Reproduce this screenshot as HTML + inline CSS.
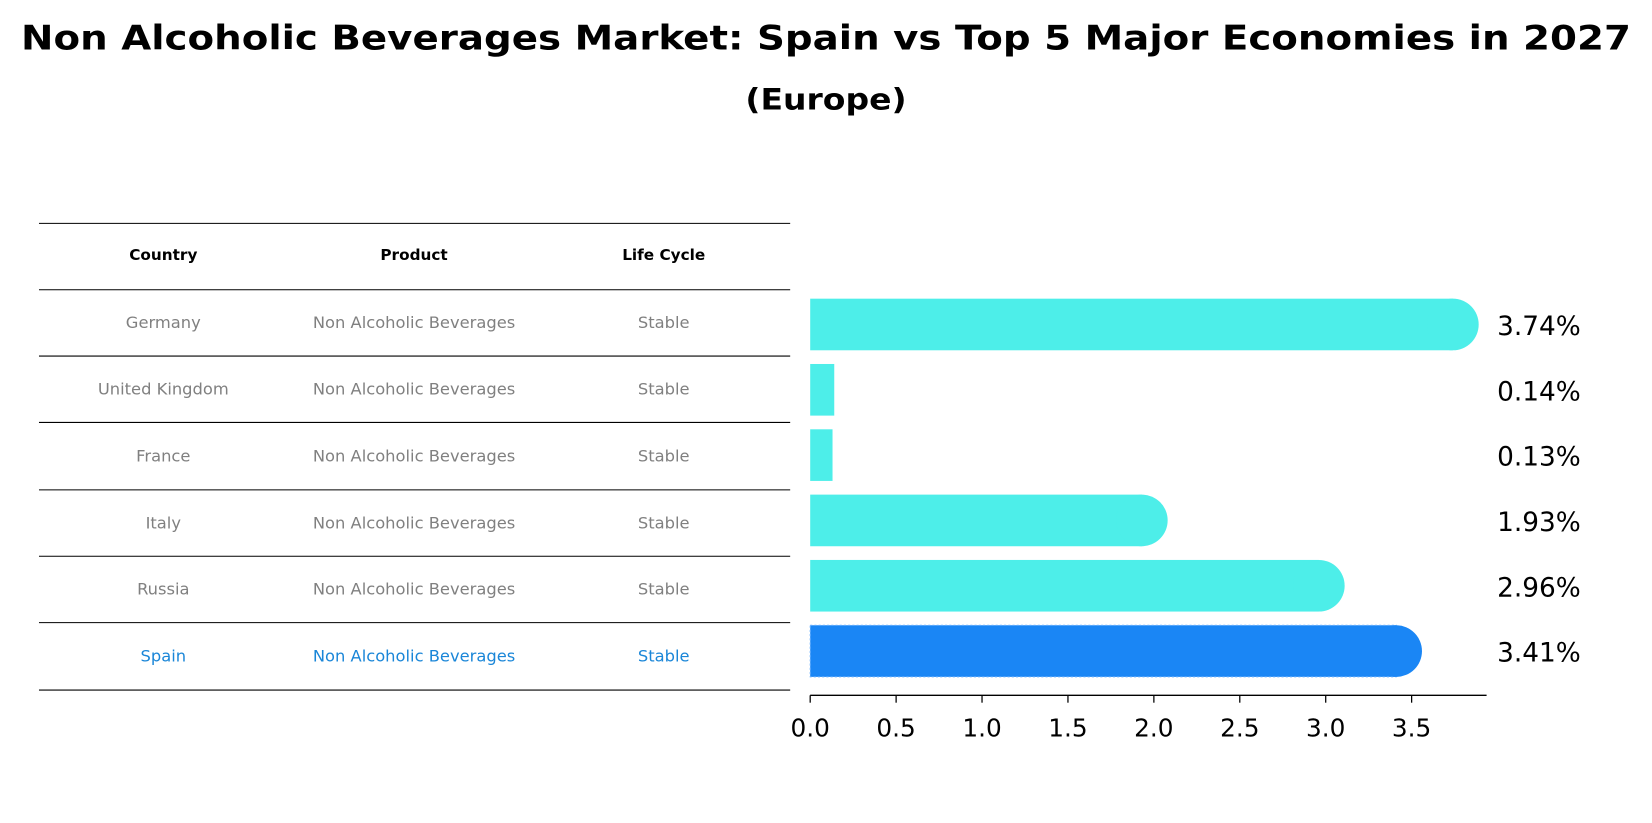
<!DOCTYPE html>
<html><head><meta charset="utf-8"><style>
body{margin:0;background:#fff;font-family:"Liberation Sans","DejaVu Sans",sans-serif;overflow:hidden}
svg{display:block}
</style></head><body>
<svg id="chart" width="1652" height="823" viewBox="0 0 1568 781.2" preserveAspectRatio="none" xmlns="http://www.w3.org/2000/svg" font-family="DejaVu Sans, Liberation Sans, sans-serif">
<text x="784" y="47" text-anchor="middle" font-size="32" font-weight="bold" textLength="1528" lengthAdjust="spacingAndGlyphs">Non Alcoholic Beverages Market: Spain vs Top 5 Major Economies in 2027</text>
<text x="784" y="104" text-anchor="middle" font-size="28" font-weight="bold" textLength="153" lengthAdjust="spacingAndGlyphs">(Europe)</text>
<g id="table"></g>
<g id="bars"></g>
<g id="axis"></g>
</svg>
<script>
const countries = ["Germany","United Kingdom","France","Italy","Russia","Spain"];
const products = ["Non Alcoholic Beverages","Non Alcoholic Beverages","Non Alcoholic Beverages","Non Alcoholic Beverages","Non Alcoholic Beverages","Non Alcoholic Beverages"];
const lifecycle = ["Stable","Stable","Stable","Stable","Stable","Stable"];
const values = [3.74,0.14,0.13,1.93,2.96,3.41];
const valueLabels = ["3.74%","0.14%","0.13%","1.93%","2.96%","3.41%"];
const ticks = [0,0.5,1.0,1.5,2.0,2.5,3.0,3.5];
const tickLabels = ["0.0","0.5","1.0","1.5","2.0","2.5","3.0","3.5"];

const NS="http://www.w3.org/2000/svg";
function mk(tag,attrs,parent,text){const e=document.createElementNS(NS,tag);for(const k in attrs)e.setAttribute(k,attrs[k]);if(text!==undefined)e.textContent=text;parent.appendChild(e);return e;}
const x0=769, unit=163.1;
const xs=v=>x0+v*unit;
const rowY=i=>308+i*62;
const table=document.getElementById('table'), bars=document.getElementById('bars'), axis=document.getElementById('axis');

const lines=[212,275,338,401,465,528,591,655];
lines.forEach(y=>{const l=mk('line',{x1:37,x2:750,y1:y,y2:y,stroke:'#000','stroke-width':1},table);

});
const colX=[155,393,630];
["Country","Product","Life Cycle"].forEach((h,j)=>{const t=mk('text',{x:colX[j],y:247,'text-anchor':'middle','font-size':14.5,'font-weight':'bold'},table,h);

});
countries.forEach((c,i)=>{
  const y=(lines[i+1]+lines[i+2])/2+5;
  const col=c==="Spain"?'#1a86d8':'#808080';
  [c,products[i],lifecycle[i]].forEach((v,j)=>{const t=mk('text',{x:colX[j],y:y,'text-anchor':'middle','font-size':15.5,fill:col},table,v);
  
  });
});

values.forEach((v,i)=>{
  const cy=rowY(i), h=49, w=xs(v)-x0;
  const spain=countries[i]==="Spain";
  const fill=spain?'#1a86f5':'#4deee9';
  const g=mk('g',{},bars);
  
  
  mk('rect',{x:x0,y:cy-h/2,width:w,height:h,fill:fill,stroke:spain?'#6fb3ff':'none','stroke-dasharray':'2,2'},g);
  if(v>1) mk('circle',{cx:xs(v),cy:cy,r:h/2,fill:fill},g);
  const t=mk('text',{x:1421,y:cy+10,'font-size':25},bars,valueLabels[i]);
  
  
});

mk('line',{x1:x0,x2:1411,y1:660,y2:660,stroke:'#000','stroke-width':1.2},axis);
ticks.forEach((v,i)=>{
  mk('line',{x1:xs(v),x2:xs(v),y1:660,y2:667,stroke:'#000','stroke-width':1.2},axis);
  const t=mk('text',{x:xs(v),y:699,'text-anchor':'middle','font-size':23.5},axis,tickLabels[i]);
  
  
});
</script>
</body></html>
